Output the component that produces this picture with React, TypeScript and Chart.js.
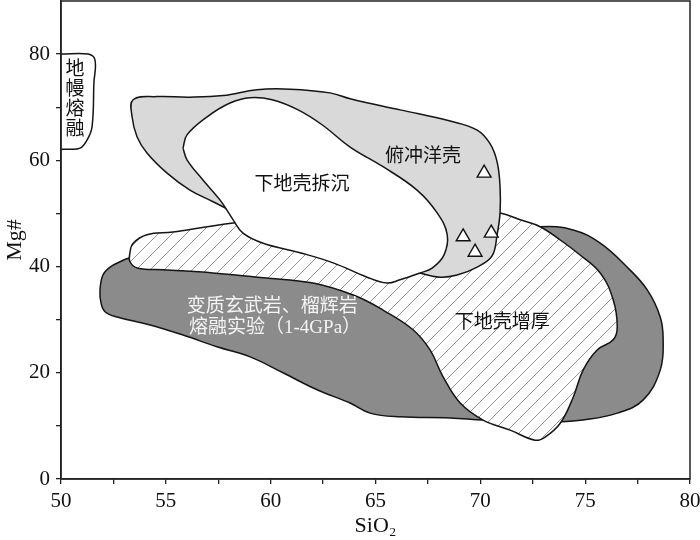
import React, { useEffect, useRef } from 'react';
import { Chart, registerables } from 'chart.js';

Chart.register(...registerables);

// ---------- axes ----------
const X_MIN = 50;
const X_MAX = 80;
const Y_MIN = 0;
const Y_MAX = 90;
const X_LABELED = [50, 55, 60, 65, 70, 75, 80];
const Y_LABELED = [0, 20, 40, 60, 80];
const X_TITLE = 'SiO\u2082';
const Y_TITLE = 'Mg#';

// ---------- field outlines (SiO2, Mg#) ----------
const mantleField: [number, number][] = [
  [50.0, 80.0], [51.29, 80.0], [51.62, 78.9], [51.57, 74.6], [51.48, 66.3],
  [51.24, 63.8], [50.91, 62.3], [50.29, 62.1], [50.0, 62.1],
];

const basaltMeltField: [number, number][] = [
  [68.56, 45.9], [61.4, 43.1], [56.63, 42.2], [53.29, 41.6], [52.81, 40.9],
  [52.34, 39.9], [52.0, 38.4], [51.86, 35.6], [51.91, 33.1], [52.1, 31.5],
  [52.67, 30.5], [54.25, 29.0], [55.82, 27.1], [57.44, 24.9], [59.02, 23.0],
  [60.59, 20.0], [62.21, 16.8], [63.79, 14.3], [64.74, 12.4], [66.17, 11.7],
  [68.56, 11.5], [70.13, 11.1], [71.9, 10.9], [73.81, 10.8], [74.9, 11.1],
  [76.53, 12.4], [77.77, 14.9], [78.58, 20.5], [78.72, 26.2], [78.58, 30.5],
  [77.96, 35.6], [77.0, 39.9], [75.72, 44.4], [74.43, 46.9], [72.85, 47.5],
  [68.56, 45.9],
];

const thickenedCrustField: [number, number][] = [
  [66.17, 49.9], [69.99, 50.3], [70.94, 50.1], [71.9, 48.8], [72.85, 47.5],
  [73.81, 45.0], [74.62, 42.6], [75.72, 38.8], [76.34, 33.7], [76.53, 28.6],
  [76.34, 26.2], [75.57, 24.3], [74.9, 20.5], [74.43, 15.4], [73.81, 10.5],
  [73.09, 7.9], [72.61, 7.3], [71.42, 9.2], [70.13, 11.1], [69.04, 14.3],
  [68.23, 19.2], [67.6, 24.3], [66.79, 28.1], [65.36, 31.8], [64.03, 34.5],
  [62.02, 36.9], [59.64, 37.9], [57.25, 38.8], [54.87, 39.4], [53.67, 39.7],
  [53.29, 40.9], [53.29, 42.6], [53.44, 44.4], [54.1, 46.0], [55.34, 46.5],
  [56.97, 47.5], [58.21, 48.2], [61.4, 49.2], [66.17, 49.9],
];

const slabField: [number, number][] = [
  [61.4, 45.0], [59.02, 47.8], [57.97, 50.7], [57.25, 52.2], [56.15, 54.4],
  [55.06, 57.6], [54.1, 61.4], [53.63, 64.4], [53.39, 68.2], [53.44, 71.4],
  [54.58, 72.0], [56.15, 71.9], [57.73, 72.2], [59.35, 73.3], [60.93, 73.4],
  [62.83, 72.7], [63.79, 71.6], [66.17, 69.5], [68.56, 67.4], [69.85, 65.7],
  [70.47, 63.1], [70.8, 59.7], [70.94, 55.0], [70.94, 50.1], [70.8, 46.0],
  [70.56, 42.0], [69.85, 39.9], [68.89, 38.4], [68.08, 38.0], [67.13, 38.8],
  [65.22, 41.2], [61.4, 45.0],
];

const delaminationField: [number, number][] = [
  [55.82, 62.3], [56.01, 64.8], [56.97, 68.2], [58.06, 70.8], [59.02, 71.8],
  [60.07, 71.4], [61.31, 69.5], [62.45, 66.7], [63.79, 62.5], [65.36, 58.8],
  [66.98, 54.4], [67.94, 50.1], [68.42, 46.0], [68.27, 42.2], [67.7, 39.7],
  [67.13, 38.8], [66.17, 37.5], [65.55, 36.9], [64.6, 38.0], [62.98, 40.7],
  [61.4, 42.6], [59.64, 44.4], [58.68, 46.3], [58.21, 48.8], [57.59, 52.5],
  [56.77, 56.3], [56.01, 60.1], [55.82, 62.3],
];

// ---------- samples ----------
const sampleSiO2 = [70.18, 69.18, 70.52, 69.75];
const sampleMg = [57.6, 45.6, 46.3, 42.7];

// ---------- annotations ----------
const FIELD_LABELS = [
  { text: '下地壳拆沉', x: 61.5, y: 55.4, kind: 'dark' },
  { text: '俯冲洋壳', x: 67.27, y: 60.6, kind: 'dark' },
  { text: '变质玄武岩、榴辉岩', x: 60.07, y: 32.4, kind: 'light' },
  { text: '熔融实验（1-4GPa）', x: 60.21, y: 28.4, kind: 'light' },
  { text: '下地壳增厚', x: 71.04, y: 29.4, kind: 'dark' },
  { text: '地', x: 50.67, y: 77.0, kind: 'dark' },
  { text: '幔', x: 50.67, y: 73.3, kind: 'dark' },
  { text: '熔', x: 50.67, y: 69.5, kind: 'dark' },
  { text: '融', x: 50.67, y: 65.8, kind: 'dark' },
];

const toPts = (arr: [number, number][]) => arr.map(([x, y]) => ({ x, y }));

function makeHatch(): CanvasPattern | string {
  const s = 14;
  const c = document.createElement('canvas');
  c.width = s;
  c.height = s;
  const g = c.getContext('2d');
  if (!g) return '#fff';
  g.fillStyle = '#ffffff';
  g.fillRect(0, 0, s, s);
  g.strokeStyle = '#787878';
  g.lineWidth = 0.8;
  g.beginPath();
  g.moveTo(-2, s + 2);
  g.lineTo(s + 2, -2);
  g.moveTo(-2, 2);
  g.lineTo(2, -2);
  g.moveTo(s - 2, s + 2);
  g.lineTo(s + 2, s - 2);
  g.stroke();
  const p = g.createPattern(c, 'repeat');
  return p || '#fff';
}

const overlayPlugin = {
  id: 'overlay',
  afterDatasetsDraw(chart: any) {
    const { ctx, chartArea: a } = chart;
    const xs = chart.scales.x;
    const ys = chart.scales.y;
    ctx.save();
    ctx.textAlign = 'center';
    ctx.textBaseline = 'middle';
    for (const l of FIELD_LABELS) {
      ctx.font = '19px "Liberation Serif", "Noto Sans CJK SC", serif';
      ctx.fillStyle = l.kind === 'light' ? '#f4f4f4' : '#111111';
      ctx.fillText(l.text, xs.getPixelForValue(l.x), ys.getPixelForValue(l.y));
    }
    ctx.strokeStyle = '#222';
    ctx.lineWidth = 1.5;
    ctx.strokeRect(a.left, a.top, a.right - a.left, a.bottom - a.top);
    ctx.restore();
  },
};

export default function App() {
  const ref = useRef<HTMLCanvasElement | null>(null);

  useEffect(() => {
    if (!ref.current) return;
    const hatch = makeHatch();
    const outline = '#151515';
    const poly = (label: string, pts: [number, number][], bg: any) => ({
      label,
      data: toPts(pts),
      showLine: true,
      fill: 'shape',
      backgroundColor: bg,
      borderColor: outline,
      borderWidth: 1.5,
      pointRadius: 0,
      pointHoverRadius: 0,
      tension: 0.4,
      borderJoinStyle: 'round',
    });

    const tickFont = { family: '"Liberation Serif", "Times New Roman", serif', size: 21 };
    const axisColor = '#222';

    const chart = new Chart(ref.current, {
      type: 'scatter',
      data: {
        datasets: [
          {
            label: 'samples',
            data: sampleSiO2.map((x, i) => ({ x, y: sampleMg[i] })),
            pointStyle: 'triangle',
            pointRadius: 8,
            pointBackgroundColor: '#ffffff',
            pointBorderColor: '#111',
            pointBorderWidth: 1.4,
            showLine: false,
          } as any,
          poly('下地壳拆沉', delaminationField, '#ffffff'),
          poly('俯冲洋壳', slabField, '#d9d9d9'),
          poly('下地壳增厚', thickenedCrustField, hatch),
          poly('变质玄武岩、榴辉岩熔融实验', basaltMeltField, '#8b8b8b'),
          {
            label: '地幔熔融',
            data: toPts(mantleField),
            showLine: true,
            fill: false,
            borderColor: outline,
            borderWidth: 1.5,
            pointRadius: 0,
            tension: 0.4,
          } as any,
        ] as any,
      },
      options: {
        animation: false,
        responsive: false,
        layout: { autoPadding: false, padding: { top: 1, right: 10, left: 0, bottom: 0 } },
        plugins: { legend: { display: false }, tooltip: { enabled: false } },
        scales: {
          x: {
            type: 'linear',
            min: X_MIN,
            max: X_MAX,
            afterFit: (s: any) => {
              s.height = 61;
              s.paddingLeft = 0;
              s.paddingRight = 0;
            },
            afterBuildTicks: (s: any) => {
              const t = [];
              for (let v = X_MIN; v <= X_MAX + 1e-9; v += 2.5) t.push({ value: v });
              s.ticks = t;
            },
            ticks: {
              autoSkip: false,
              maxRotation: 0,
              padding: 5,
              color: '#111',
              font: tickFont,
              callback: (v: any) => (X_LABELED.includes(Number(v)) ? String(v) : ''),
            },
            grid: { drawOnChartArea: false, drawTicks: true, tickLength: 5, color: axisColor, lineWidth: 1.3 },
            border: { display: true, color: axisColor, width: 1.5 },
            title: {
              display: true,
              text: X_TITLE,
              color: '#111',
              font: { family: '"Liberation Serif", "DejaVu Serif", serif', size: 22 },
              padding: { top: 0, bottom: 1 },
            },
          },
          y: {
            type: 'linear',
            min: Y_MIN,
            max: Y_MAX,
            afterFit: (s: any) => {
              s.width = 61;
              s.paddingTop = 0;
              s.paddingBottom = 0;
            },
            afterBuildTicks: (s: any) => {
              const t = [];
              for (let v = Y_MIN; v <= 80; v += 10) t.push({ value: v });
              s.ticks = t;
            },
            ticks: {
              autoSkip: false,
              padding: 6,
              color: '#111',
              font: tickFont,
              callback: (v: any) => (Y_LABELED.includes(Number(v)) ? String(v) : ''),
            },
            grid: { drawOnChartArea: false, drawTicks: true, tickLength: 5, color: axisColor, lineWidth: 1.3 },
            border: { display: true, color: axisColor, width: 1.5 },
            title: {
              display: true,
              text: Y_TITLE,
              color: '#111',
              font: { family: '"Liberation Serif", serif', size: 22 },
              padding: { top: 2, bottom: 0 },
            },
          },
        },
      } as any,
      plugins: [overlayPlugin],
    });
    return () => chart.destroy();
  }, []);

  return (
    <div style={{ position: 'absolute', left: 0, top: 0, width: 700, height: 540 }}>
      <canvas ref={ref} width={700} height={540} style={{ display: 'block' }} />
    </div>
  );
}
